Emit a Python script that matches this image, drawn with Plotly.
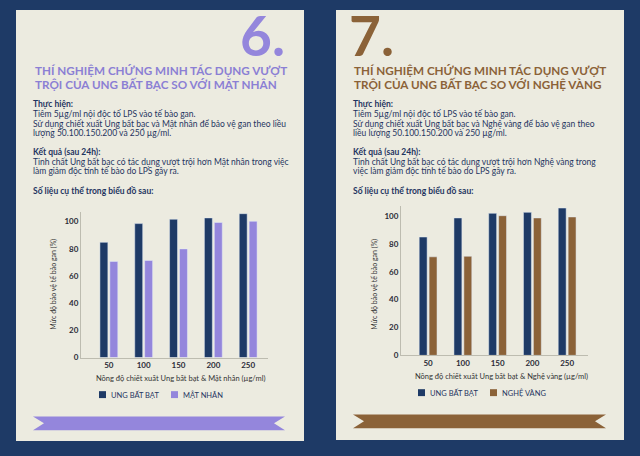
import plotly.graph_objects as go

W, H = 640, 456
def px(x): return x / W
def py(y): return 1 - y / H

# ---------------- data ----------------
doses = ["50", "100", "150", "200", "250"]
ung_left = [84.7, 98.5, 101.7, 102.7, 105.8]
mat_nhan = [70.7, 71.4, 79.9, 99.3, 100.2]
ung_right = [84.9, 98.6, 101.9, 102.6, 105.7]
nghe_vang = [70.7, 71.1, 100.2, 98.6, 99.3]
y_ticks = [0, 20, 40, 60, 80, 100]
names_left = ["UNG BẤT BẠT", "MẬT NHÂN"]
names_right = ["UNG BẤT BẠT", "NGHỆ VÀNG"]

NAVY = "#1e3a66"
CREAM = "#ecebe0"
LAV = "#9486dc"
LAV_T = "#8b7fd4"
BROWN = "#8b6238"
TXT = "#1f3560"
AX = "#bdbcb0"
FONT = "Lato"

fig = go.Figure()
fig.add_trace(go.Bar(x=doses, y=ung_left, name=names_left[0], marker_color=NAVY,
                     xaxis="x", yaxis="y", showlegend=False))
fig.add_trace(go.Bar(x=doses, y=mat_nhan, name=names_left[1], marker_color=LAV,
                     xaxis="x", yaxis="y", showlegend=False))
fig.add_trace(go.Bar(x=doses, y=ung_right, name=names_right[0], marker_color=NAVY,
                     xaxis="x2", yaxis="y2", showlegend=False))
fig.add_trace(go.Bar(x=doses, y=nghe_vang, name=names_right[1], marker_color=BROWN,
                     xaxis="x2", yaxis="y2", showlegend=False))

tickfont = dict(family=FONT, size=8, color="#2b2b38", weight="bold")
common_x = dict(type="category", showline=True, linecolor=AX, linewidth=1, ticks="",
                showgrid=False, zeroline=False, tickfont=tickfont)
common_y = dict(range=[0, 107], tickvals=y_ticks, showline=True, linecolor=AX, linewidth=1,
                ticks="", showgrid=False, zeroline=False, tickfont=tickfont)

shapes = [
    dict(type="rect", xref="paper", yref="paper", x0=px(16), x1=px(304), y0=py(446), y1=py(10),
         fillcolor=CREAM, line_width=0, layer="below"),
    dict(type="rect", xref="paper", yref="paper", x0=px(336), x1=px(624), y0=py(445), y1=py(10),
         fillcolor=CREAM, line_width=0, layer="below"),
]

def ribbon(x0, x1, y0, y1, notch, color):
    ym = (y0 + y1) / 2
    pts = [(x0, y0), (x1, y0), (x1 - notch, ym), (x1, y1), (x0, y1), (x0 + notch, ym)]
    path = "M " + " L ".join(f"{px(a):.5f},{py(b):.5f}" for a, b in pts) + " Z"
    return dict(type="path", xref="paper", yref="paper", path=path, fillcolor=color,
                line_width=0, layer="below")

shapes.append(ribbon(33, 285, 421, 435, 11, LAV))
shapes.append(ribbon(353, 606, 419, 433, 11, BROWN))

def square(x, y, color):
    return dict(type="rect", xref="paper", yref="paper", x0=px(x), x1=px(x + 7),
                y0=py(y + 3.5), y1=py(y - 3.5), fillcolor=color, line_width=0)

shapes += [square(99, 399, NAVY), square(171, 399, LAV),
           square(418, 397, NAVY), square(490, 397, BROWN)]

ann = []
def text(x, y, s, size=9, color=TXT, bold=False, xanchor="left", angle=0, family=FONT):
    ann.append(dict(x=px(x), y=py(y), xref="paper", yref="paper", text=s, showarrow=False,
                    xanchor=xanchor, yanchor="middle", textangle=angle,
                    font=dict(family=family, size=size, color=color,
                              weight="bold" if bold else "normal")))

# big numbers
text(287, 35, "6.", size=55, color=LAV, bold=True, xanchor="right")
text(347, 35, "7.", size=55, color=BROWN, bold=True, xanchor="left")

# titles
text(33, 71, "THÍ NGHIỆM CHỨNG MINH TÁC DỤNG VƯỢT", size=11.7, color=LAV_T, bold=True)
text(33, 85, "TRỘI CỦA UNG BẤT BẠC SO VỚI MẶT NHÂN", size=11.7, color=LAV_T, bold=True)
text(352, 71, "THÍ NGHIỆM CHỨNG MINH TÁC DỤNG VƯỢT", size=11.7, color=BROWN, bold=True)
text(352, 85, "TRỘI CỦA UNG BẤT BẠC SO VỚI NGHỆ VÀNG", size=11.7, color=BROWN, bold=True)

left_lines = [
    (105, "Thực hiện:", True),
    (115, "Tiêm 5µg/ml nội độc tố LPS vào tế bào gan.", False),
    (125, "Sử dụng chiết xuất Ung bất bạc và Mật nhân để bảo vệ gan theo liều", False),
    (134, "lượng 50.100.150.200 và 250 µg/ml.", False),
    (154, "Kết quả (sau 24h):", True),
    (164, "Tinh chất Ung bất bạc có tác dụng vượt trội hơn Mật nhân trong việc", False),
    (173, "làm giảm độc tính tế bào do LPS gây ra.", False),
    (193, "Số liệu cụ thể trong biểu đồ sau:", True),
]
right_lines = [
    (105, "Thực hiện:", True),
    (115, "Tiêm 5µg/ml nội độc tố LPS vào tế bào gan.", False),
    (125, "Sử dụng chiết xuất Ung bất bạc và Nghệ vàng để bảo vệ gan theo", False),
    (134, "liều lượng 50.100.150.200 và 250 µg/ml.", False),
    (154, "Kết quả (sau 24h):", True),
    (164, "Tinh chất Ung bất bạc có tác dụng vượt trội hơn Nghệ vàng trong", False),
    (173, "việc làm giảm độc tính tế bào do LPS gây ra.", False),
    (193, "Số liệu cụ thể trong biểu đồ sau:", True),
]
for y, s, b in left_lines:
    text(31, y, s, size=8.5, bold=b)
for y, s, b in right_lines:
    text(351, y, s, size=8.5, bold=b)

# axis titles
text(54, 288, "Mức độ bảo vệ tế bào gan (%)", size=7, color="#333", xanchor="center", angle=-90)
text(375, 288, "Mức độ bảo vệ tế bào gan (%)", size=7, color="#333", xanchor="center", angle=-90)
text(180, 383, "Nồng độ chiết xuất Ung bất bạt & Mật nhân (µg/ml)", size=7.5, color="#333", xanchor="center")
text(501, 381, "Nồng độ chiết xuất Ung bất bạt & Nghệ vàng (µg/ml)", size=7.5, color="#333", xanchor="center")

# legends
text(109, 399, names_left[0], size=7.5, color=TXT)
text(181, 399, names_left[1], size=7.5, color=TXT)
text(428, 397, names_right[0], size=7.5, color=TXT)
text(500, 397, names_right[1], size=7.5, color=TXT)

fig.update_layout(
    width=W, height=H, margin=dict(l=0, r=0, t=0, b=0),
    paper_bgcolor=NAVY, plot_bgcolor="rgba(0,0,0,0)",
    barmode="group", bargap=0.43, bargroupgap=0.2,
    xaxis=dict(domain=[px(81), px(268)], anchor="y", range=[-0.8, 4.57], **common_x),
    yaxis=dict(domain=[py(361.5), py(214.4)], anchor="x", **common_y),
    xaxis2=dict(domain=[px(401), px(588)], anchor="y2", range=[-0.78, 4.6], **common_x),
    yaxis2=dict(domain=[py(359.3), py(208.5)], anchor="x2", **common_y),
    shapes=shapes, annotations=ann, showlegend=False,
)

fig.write_html("out.html", config={"displayModeBar": False},
               post_script="document.body.style.margin='0';document.body.style.background='#1e3a66';")
